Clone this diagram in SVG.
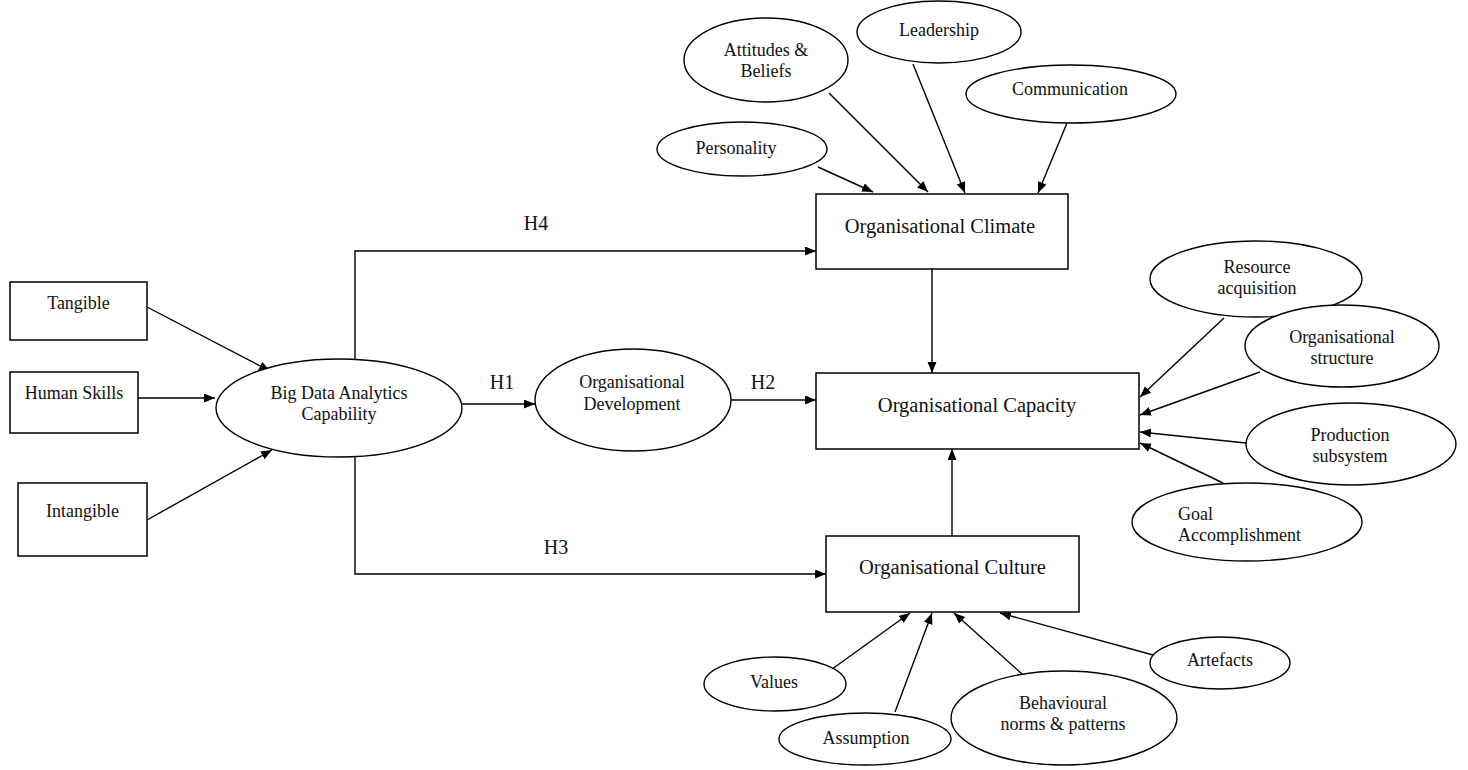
<svg xmlns="http://www.w3.org/2000/svg" width="1468" height="770" viewBox="0 0 1468 770">
<defs>
<style>
.box{fill:#fff;stroke:#000;stroke-width:1.5}
.ell{fill:#fff;stroke:#000;stroke-width:1.4}
.c{fill:none;stroke:#000;stroke-width:1.4;marker-end:url(#ah)}
text{font-family:"Liberation Serif","Times New Roman",serif;fill:#111;text-anchor:middle}
.s{font-size:18px}
.t{font-size:20.5px}
.h{font-size:20px}
</style>
<marker id="ah" markerUnits="userSpaceOnUse" markerWidth="12" markerHeight="10" refX="11" refY="4.5" orient="auto">
<path d="M0,0 L11,4.5 L0,9 z" fill="#000"/>
</marker>
</defs>
<rect width="1468" height="770" fill="#fff"/>
<g id="connectors">
<line class="c" x1="147" y1="307" x2="270" y2="371"/>
<line class="c" x1="138" y1="398" x2="215" y2="398"/>
<line class="c" x1="147" y1="520" x2="272" y2="450"/>
<line class="c" x1="462" y1="404" x2="535" y2="404"/>
<line class="c" x1="731" y1="400" x2="816" y2="400"/>
<polyline class="c" points="355,359 355,251 816,251"/>
<polyline class="c" points="355,457 355,574 826,574"/>
<line class="c" x1="932" y1="269" x2="932" y2="373"/>
<line class="c" x1="952" y1="536" x2="952" y2="449"/>
<line class="c" x1="818" y1="167" x2="873" y2="192"/>
<line class="c" x1="829" y1="93" x2="928" y2="192"/>
<line class="c" x1="913" y1="64" x2="965" y2="193"/>
<line class="c" x1="1067" y1="123" x2="1038" y2="193"/>
<line class="c" x1="1224" y1="318" x2="1140" y2="397"/>
<line class="c" x1="1260" y1="372" x2="1140" y2="415"/>
<line class="c" x1="1246" y1="443" x2="1140" y2="432"/>
<line class="c" x1="1223" y1="483" x2="1140" y2="443"/>
<line class="c" x1="828" y1="672" x2="910" y2="613"/>
<line class="c" x1="895" y1="712" x2="932" y2="613"/>
<line class="c" x1="1022" y1="674" x2="954" y2="613"/>
<line class="c" x1="1153" y1="655" x2="1000" y2="613"/>
<text class="h" x="502" y="389">H1</text>
<text class="h" x="763" y="389">H2</text>
<text class="h" x="556" y="554">H3</text>
<text class="h" x="536" y="230">H4</text>
</g>
<g id="tangible"><rect class="box" x="10" y="282" width="137" height="58"/><text class="s" x="78.5" y="309">Tangible</text></g>
<g id="human-skills"><rect class="box" x="10" y="372" width="128" height="61"/><text class="s" x="74" y="399">Human Skills</text></g>
<g id="intangible"><rect class="box" x="18" y="483" width="129" height="73"/><text class="s" x="82.5" y="517">Intangible</text></g>
<g id="bda"><ellipse class="ell" cx="339" cy="408" rx="123" ry="49"/><text class="s" x="339" y="399">Big Data Analytics</text><text class="s" x="339" y="420">Capability</text></g>
<g id="od"><ellipse class="ell" cx="633" cy="400" rx="98" ry="51"/><text class="s" x="632" y="388">Organisational</text><text class="s" x="632" y="410">Development</text></g>
<g id="climate"><rect class="box" x="816" y="194" width="252" height="75"/><text class="t" x="940" y="233">Organisational Climate</text></g>
<g id="capacity"><rect class="box" x="816" y="373" width="323" height="76"/><text class="t" x="977" y="412">Organisational Capacity</text></g>
<g id="culture"><rect class="box" x="826" y="536" width="253" height="76"/><text class="t" x="952.5" y="574">Organisational Culture</text></g>
<g id="personality"><ellipse class="ell" cx="742" cy="149" rx="85" ry="27"/><text class="s" x="736" y="154">Personality</text></g>
<g id="attitudes"><ellipse class="ell" cx="766" cy="60" rx="82" ry="42"/><text class="s" x="766" y="56">Attitudes &amp;</text><text class="s" x="766" y="77">Beliefs</text></g>
<g id="leadership"><ellipse class="ell" cx="939" cy="32" rx="82" ry="31"/><text class="s" x="939" y="36">Leadership</text></g>
<g id="communication"><ellipse class="ell" cx="1071" cy="94" rx="105" ry="29"/><text class="s" x="1070" y="95">Communication</text></g>
<g id="resource"><ellipse class="ell" cx="1256" cy="279" rx="106" ry="38"/><text class="s" x="1257" y="273">Resource</text><text class="s" x="1257" y="294">acquisition</text></g>
<g id="structure"><ellipse class="ell" cx="1342" cy="346" rx="97" ry="41"/><text class="s" x="1342" y="343">Organisational</text><text class="s" x="1342" y="364">structure</text></g>
<g id="production"><ellipse class="ell" cx="1351" cy="444" rx="105" ry="41"/><text class="s" x="1350" y="441">Production</text><text class="s" x="1350" y="462">subsystem</text></g>
<g id="goal"><ellipse class="ell" cx="1247" cy="522" rx="115" ry="39"/><text class="s" x="1178" y="520" style="text-anchor:start">Goal</text><text class="s" x="1178" y="541" style="text-anchor:start">Accomplishment</text></g>
<g id="values"><ellipse class="ell" cx="775" cy="684" rx="71" ry="27"/><text class="s" x="774" y="688">Values</text></g>
<g id="assumption"><ellipse class="ell" cx="865" cy="739" rx="86" ry="26"/><text class="s" x="866" y="744">Assumption</text></g>
<g id="behavioural"><ellipse class="ell" cx="1064" cy="718" rx="113" ry="47"/><text class="s" x="1063" y="709">Behavioural</text><text class="s" x="1063" y="730">norms &amp; patterns</text></g>
<g id="artefacts"><ellipse class="ell" cx="1220" cy="663" rx="70" ry="26"/><text class="s" x="1220" y="666">Artefacts</text></g>
</svg>
